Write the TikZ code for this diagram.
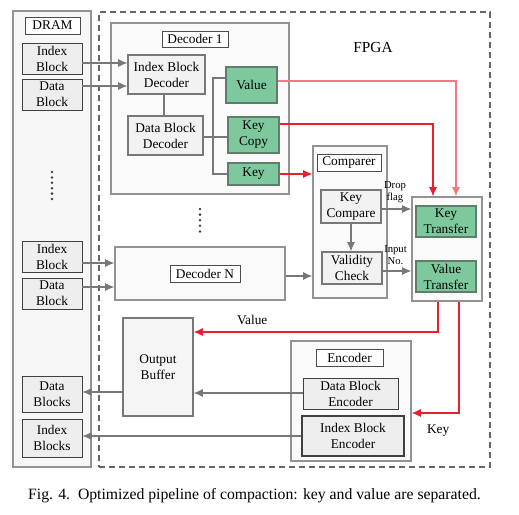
\documentclass[tikz,border=0pt]{standalone}
\usepackage{fontspec}
\setmainfont{Liberation Serif}
\usepackage{tikz}
\usetikzlibrary{arrows.meta,positioning}
\newlength\unitpx
\setlength\unitpx{0.75pt}
\definecolor{keygreen}{RGB}{126,200,158}
\definecolor{greenline}{RGB}{95,125,105}
\definecolor{linegray}{RGB}{120,120,120}
\definecolor{pipered}{RGB}{235,30,45}
\tikzset{
    frame/.style={draw=linegray!80,fill=gray!4,line width=0.9pt,inner sep=0pt},
    memblock/.style={draw=black!75,fill=gray!13,line width=0.6pt,align=center,inner sep=0pt,minimum width=60\unitpx},
    tag/.style={draw=black!70,fill=white,line width=0.6pt,inner sep=0pt},
    unit/.style={draw=linegray,fill=gray!10,line width=0.8pt,align=center,inner sep=0pt},
    greenbox/.style={draw=greenline,fill=keygreen,line width=0.8pt,align=center,inner sep=0pt},
    gwire/.style={draw=linegray,line width=0.8pt},
    garrow/.style={gwire,-{Latex[length=7pt,width=6pt]}},
    rarrow/.style={draw=pipered,line width=0.8pt,-{Latex[length=7pt,width=6pt]}},
    smalltext/.style={font=\footnotesize,align=center,inner sep=0pt}
}
\begin{document}
\begin{tikzpicture}[x=\unitpx,y=-\unitpx]
    \useasboundingbox (0,0) rectangle (519,515);
    %DRAM
    \node[frame,fill=gray!6,minimum width=78\unitpx,minimum height=456\unitpx] (dram) at (52,239) {};
    \node[tag,minimum width=55\unitpx,minimum height=17\unitpx] (dramlbl) at (52.5,25.5) {DRAM};
    \node[memblock,minimum height=31\unitpx] (idxa) at (52,58.5) {Index\\Block};
    \node[memblock,minimum height=31\unitpx] (data) at (52,94.5) {Data\\Block};
    \node[memblock,minimum height=31\unitpx] (idxn) at (52,256.5) {Index\\Block};
    \node[memblock,minimum height=31\unitpx] (datn) at (52,293.5) {Data\\Block};
    \node[memblock,minimum height=36\unitpx] (datout) at (52,394) {Data\\Blocks};
    \node[memblock,minimum height=38\unitpx] (idxout) at (52,438) {Index\\Blocks};
    \foreach \y in {172,177.4,...,200} \fill[black!75] (52,\y) circle (1.4);
    %FPGA
    \node[draw=black!60,dash pattern=on 4.5pt off 3pt,line width=0.8pt,minimum width=391\unitpx,minimum height=455\unitpx] (fpga) at (294.5,239.5) {};
    \node[font=\fontsize{11.5}{13}\selectfont] (fpgalbl) at (373,47) {FPGA};
    %Decoder 1
    \node[frame,minimum width=178\unitpx,minimum height=171\unitpx] (deca) at (200,108.5) {};
    \node[tag,minimum width=66\unitpx,minimum height=16\unitpx] (decalbl) at (195,39) {Decoder 1};
    \node[unit,minimum width=77\unitpx,minimum height=39\unitpx] (ibd) at (166.5,74.5) {Index Block\\Decoder};
    \node[unit,minimum width=75\unitpx,minimum height=39\unitpx] (dbd) at (165.5,135.5) {Data Block\\Decoder};
    \node[greenbox,minimum width=51\unitpx,minimum height=36\unitpx] (val) at (251.5,85) {Value};
    \node[greenbox,minimum width=51\unitpx,minimum height=36\unitpx] (kcopy) at (253.5,135) {Key\\Copy};
    \node[greenbox,minimum width=51\unitpx,minimum height=22\unitpx] (key) at (253.5,174) {Key};
    \foreach \y in {209,214.6,...,237} \fill[black!75] (200,\y) circle (1.4);
    %Decoder N
    \node[frame,minimum width=170\unitpx,minimum height=53\unitpx] (decn) at (200,273.5) {};
    \node[tag,minimum width=70\unitpx,minimum height=17\unitpx] (decnlbl) at (205,273.5) {Decoder N};
    %Comparer
    \node[frame,minimum width=74\unitpx,minimum height=152\unitpx] (cmp) at (350,222) {};
    \node[tag,minimum width=64\unitpx,minimum height=17\unitpx] (cmplbl) at (349,162.5) {Comparer};
    \node[unit,minimum width=60\unitpx,minimum height=33\unitpx] (kc) at (351,206.5) {Key\\Compare};
    \node[unit,minimum width=60\unitpx,minimum height=32\unitpx] (vc) at (352,268) {Validity\\Check};
    %Transfer
    \node[frame,minimum width=70\unitpx,minimum height=104\unitpx] (trf) at (447,249) {};
    \node[greenbox,minimum width=60\unitpx,minimum height=31\unitpx] (kt) at (446,221.5) {Key\\Transfer};
    \node[greenbox,minimum width=60\unitpx,minimum height=31\unitpx] (vt) at (446,276.5) {Value\\Transfer};
    %Output side
    \node[unit,fill=gray!8,minimum width=70\unitpx,minimum height=98\unitpx] (obuf) at (158,367) {Output\\Buffer};
    \node[frame,minimum width=120\unitpx,minimum height=120\unitpx] (enc) at (351,401) {};
    \node[tag,minimum width=67\unitpx,minimum height=17\unitpx] (enclbl) at (349.5,357.5) {Encoder};
    \node[memblock,minimum width=95\unitpx,minimum height=31\unitpx] (dbe) at (350.5,393.5) {Data Block\\Encoder};
    \node[memblock,line width=0.9pt,minimum width=102\unitpx,minimum height=40\unitpx] (ibe) at (353,436) {Index Block\\Encoder};
    %Wires in decoder 1
    \coordinate (fork) at (213,137);
    \draw[gwire] (ibd.south -| 164,0) -- (dbd.north -| 164,0);
    \draw[gwire] (dbd.east |- fork) -- (fork);
    \draw[gwire] (val.west |- 0,78) -| (fork) |- (key.west);
    \draw[gwire] (fork) -- (kcopy.west |- fork);
    %Arrows
    \draw[garrow] (idxa.east |- 0,63) -- (ibd.west |- 0,63);
    \draw[garrow] (data.east |- 0,86) -- (ibd.west |- 0,86);
    \draw[garrow] (idxn.east |- 0,263) -- (decn.west |- 0,263);
    \draw[garrow] (datn.east |- 0,287) -- (decn.west |- 0,287);
    \draw[garrow] (decn.east |- 0,276) -- (cmp.west |- 0,276);
    \draw[garrow] (kc.south) -- (vc.north -| kc.south);
    \draw[garrow] (kc.east |- 0,209) -- (trf.west |- 0,209) node[smalltext,pos=0.45,above=4pt] {Drop\\flag};
    \draw[garrow] (vc.east |- 0,271) -- (trf.west |- 0,271) node[smalltext,pos=0.45,above=4pt] {Input\\No.};
    \draw[garrow] (dbe.west |- 0,393) -- (obuf.east |- 0,393);
    \draw[garrow] (obuf.west |- 0,392) -- (datout.east |- 0,392);
    \draw[garrow] (ibe.west |- 0,436) -- (idxout.east |- 0,436);
    %Red paths
    \draw[rarrow,draw=pipered!60] (val.east |- 0,81) -| (trf.north -| 456,0);
    \draw[rarrow] (kcopy.east |- 0,124) -| (trf.north -| 433,0);
    \draw[rarrow] (key.east) -- (cmp.west |- key.east);
    \draw[rarrow] (trf.south -| 438,0) |- (obuf.east |- 0,332) node[pos=0.88,above=2pt,text=black] {Value};
    \draw[rarrow] (trf.south -| 459,0) |- (enc.east |- 0,413) node[pos=0.72,below=5pt,text=black] {Key};
    %Caption
    \node[font=\fontsize{11.8}{14}\selectfont] (caption) at (254.5,496) {Fig. 4.\ \ Optimized pipeline of compaction: key and value are separated.};
\end{tikzpicture}
\end{document}
